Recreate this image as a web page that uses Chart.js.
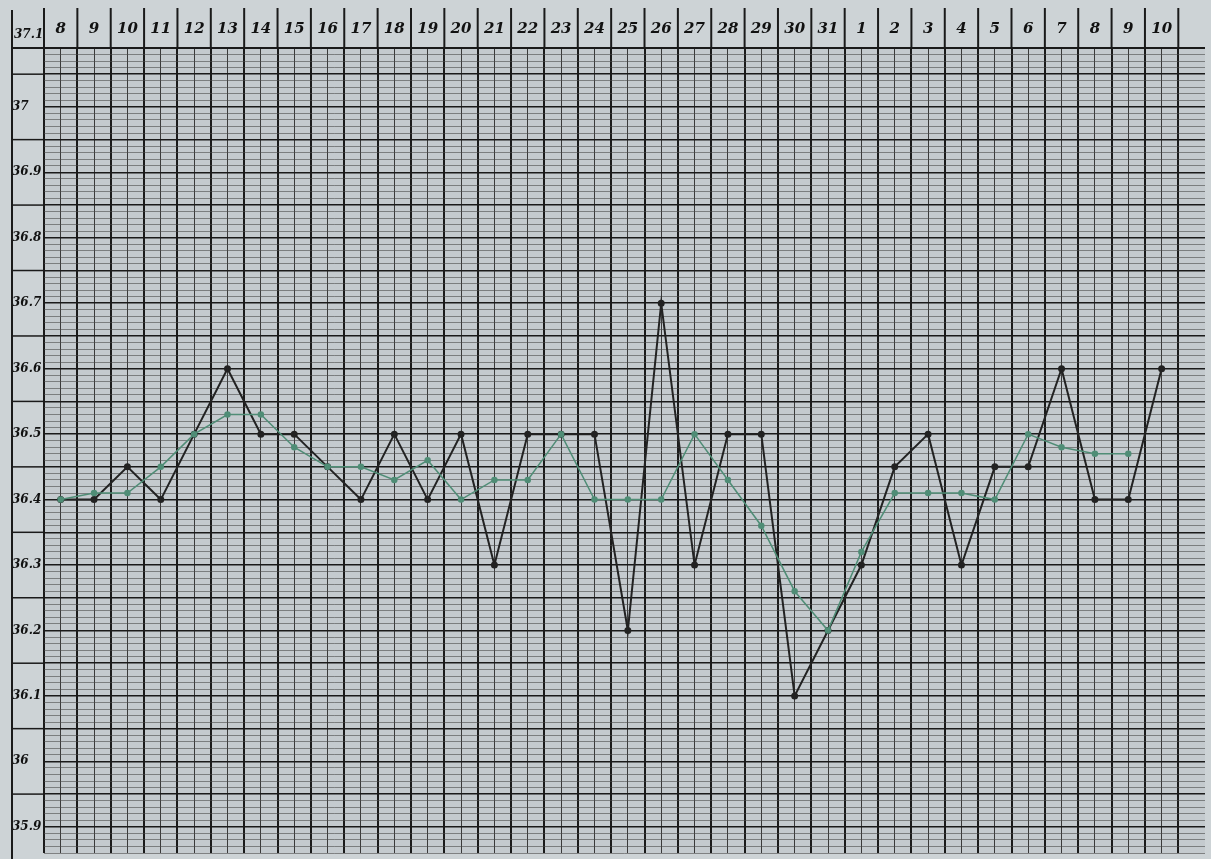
<!DOCTYPE html>
<html><head><meta charset="utf-8">
<script src="https://cdn.jsdelivr.net/npm/chart.js@4"></script>
<style>html,body{margin:0;background:#cdd3d6;}#c{display:block}</style>
</head><body>
<canvas id="c" width="1211" height="859"></canvas>
<script>
// dates across the top (two months)
const days = ['8','9','10','11','12','13','14','15','16','17','18','19','20','21','22','23','24','25','26','27','28','29','30','31','1','2','3','4','5','6','7','8','9','10'];
const tempLabels = [37, 36.9, 36.8, 36.7, 36.6, 36.5, 36.4, 36.3, 36.2, 36.1, 36, 35.9];
const headerLabel = '37.1';
// black curve
const blackTemps = [36.4,36.4,36.45,36.4,36.5,36.6,36.5,36.5,36.45,36.4,36.5,36.4,36.5,36.3,36.5,36.5,36.5,36.2,36.7,36.3,36.5,36.5,36.1,36.2,36.3,36.45,36.5,36.3,36.45,36.45,36.6,36.4,36.4,36.6];
// green curve
const greenTemps = [36.4,36.41,36.41,36.45,36.5,36.53,36.53,36.48,36.45,36.45,36.43,36.46,36.4,36.43,36.43,36.5,36.4,36.4,36.4,36.5,36.43,36.36,36.26,36.2,36.32,36.41,36.41,36.41,36.4,36.5,36.48,36.47,36.47,null];

const pts = arr => arr.map((v, i) => ({x: i, y: v}));
const isClose = (a, b) => Math.abs(a - b) < 1e-6;

const paper = {
    id: 'paper',
    beforeDraw(chart) {
        const ctx = chart.ctx, a = chart.chartArea;
        ctx.save();
        ctx.fillStyle = '#c4cace';
        ctx.fillRect(a.left, a.top, a.right - a.left, a.bottom - a.top);
        ctx.restore();
    },
    afterDraw(chart) {
        const ctx = chart.ctx, a = chart.chartArea, xs = chart.scales.x, ys = chart.scales.y;
        ctx.save();
        ctx.strokeStyle = '#1a1a1a';
        ctx.lineWidth = 2;
        for (let i = -0.5; i <= 34; i += 1) {
            const px = xs.getPixelForValue(i);
            ctx.beginPath(); ctx.moveTo(px, 8); ctx.lineTo(px, a.top); ctx.stroke();
        }
        const lx = a.left - 32;
        ctx.beginPath(); ctx.moveTo(lx, 10); ctx.lineTo(lx, 859); ctx.stroke();
        ctx.beginPath(); ctx.moveTo(lx, a.top); ctx.lineTo(a.right, a.top); ctx.stroke();
        // row separators in the label column
        ctx.lineWidth = 1.5;
        for (let k = 3705; k > 3586; k -= 10) {
            const py = ys.getPixelForValue(k / 100);
            ctx.beginPath(); ctx.moveTo(lx, py); ctx.lineTo(a.left, py); ctx.stroke();
        }
        ctx.fillStyle = '#111';
        ctx.font = 'italic bold 12px "DejaVu Serif"';
        ctx.textBaseline = 'middle';
        ctx.fillText(headerLabel, lx + 2, 35);
        ctx.restore();
    }
};

new Chart(document.getElementById('c'), {
    type: 'line',
    data: {
        datasets: [
            {label: 'green', data: pts(greenTemps), borderColor: '#4f8d76', backgroundColor: '#4f8d76', borderWidth: 1.5, pointRadius: 2.5, tension: 0},
            {label: 'black', data: pts(blackTemps), borderColor: '#222', backgroundColor: '#222', borderWidth: 2, pointRadius: 2.5, tension: 0}
        ]
    },
    plugins: [paper],
    options: {
        responsive: false,
        animation: false,
        layout: {padding: {left: 12, right: 0, top: 0, bottom: 0}},
        plugins: {legend: {display: false}, tooltip: {enabled: false}},
        scales: {
            x: {
                type: 'linear', position: 'top', min: -0.5, max: 34.3,
                afterBuildTicks: s => { const t = []; for (let i = -0.5; i <= 34; i += 0.5) t.push({value: i}); s.ticks = t; },
                afterFit: s => { s.height = 48; s.paddingLeft = 0; s.paddingRight = 0; },
                grid: {
                    drawTicks: false,
                    color: c => Number.isInteger(c.tick.value) ? '#3a3a3a' : '#1a1a1a',
                    lineWidth: c => Number.isInteger(c.tick.value) ? 1 : 2
                },
                border: {display: false},
                ticks: {
                    autoSkip: false, maxRotation: 0, padding: 10, color: '#111',
                    font: {family: 'DejaVu Serif', style: 'italic', size: 15, weight: 'bold'},
                    callback: v => Number.isInteger(v) ? days[v] : ''
                }
            },
            y: {
                type: 'linear', min: 35.86, max: 37.09,
                afterBuildTicks: s => { const t = []; for (let k = 3586; k <= 3709; k++) t.push({value: k / 100}); s.ticks = t; },
                afterFit: s => { s.width = 32; s.paddingTop = 0; s.paddingBottom = 0; },
                grid: {
                    drawTicks: false,
                    color: c => (Math.round(c.tick.value * 100) % 5 === 0) ? '#1a1a1a' : '#4a4a4a',
                    lineWidth: c => (Math.round(c.tick.value * 100) % 5 === 0) ? 1.6 : 0.6
                },
                border: {display: false},
                ticks: {
                    autoSkip: false, padding: 30, crossAlign: 'far', color: '#111',
                    font: {family: 'DejaVu Serif', style: 'italic', size: 12, weight: 'bold'},
                    callback: v => { const m = tempLabels.find(t => isClose(t, v)); return m === undefined ? '' : String(m); }
                }
            }
        }
    }
});
</script>
</body></html>
